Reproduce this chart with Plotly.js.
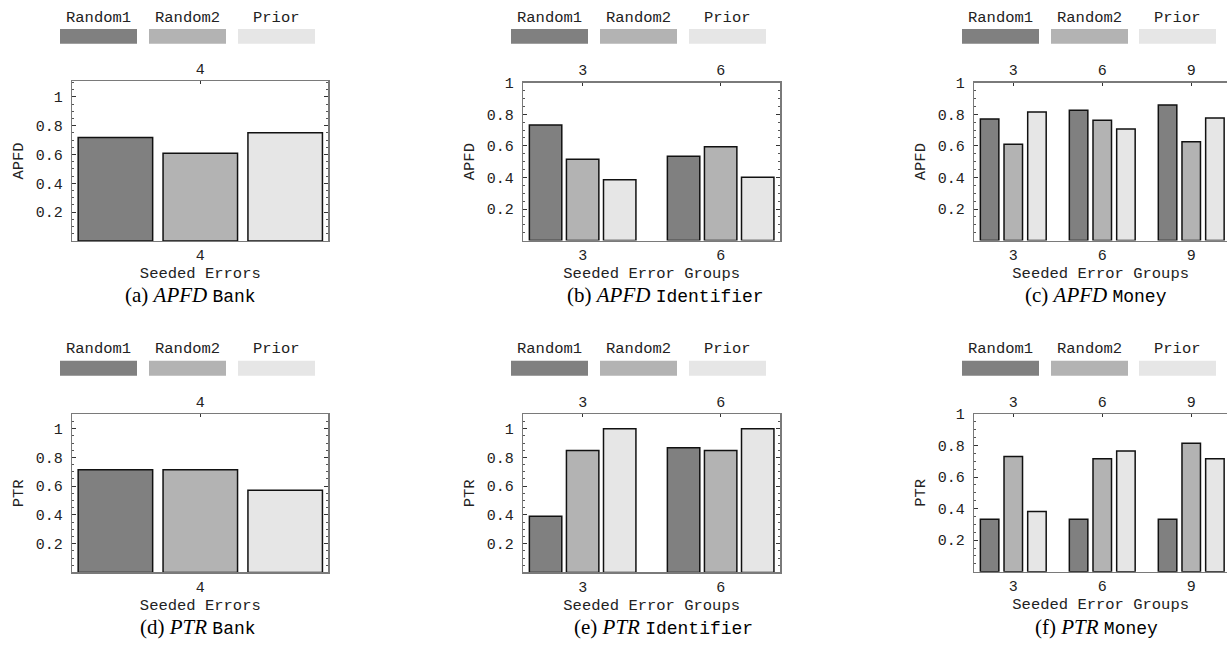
<!DOCTYPE html>
<html>
<head>
<meta charset="utf-8">
<script src="https://cdn.plot.ly/plotly-3.0.1.min.js"></script>
<style>html,body{margin:0;padding:0;background:#fff;}#chart{width:1227px;height:650px;}</style>
</head>
<body>
<div id="chart"></div>
<script>
// ---------------- data ----------------
const seriesNames = ['Random1', 'Random2', 'Prior'];

const bankCategories = ['4'];
const identifierCategories = ['3', '6'];
const moneyCategories = ['3', '6', '9'];

const yTickValues = [0.2, 0.4, 0.6, 0.8, 1];
const yTickLabels = ['0.2', '0.4', '0.6', '0.8', '1'];

// APFD
const apfdBankRandom1 = [0.718];
const apfdBankRandom2 = [0.608];
const apfdBankPrior = [0.751];
const apfdIdentifierRandom1 = [0.732, 0.534];
const apfdIdentifierRandom2 = [0.515, 0.595];
const apfdIdentifierPrior = [0.386, 0.401];
const apfdMoneyRandom1 = [0.770, 0.825, 0.859];
const apfdMoneyRandom2 = [0.610, 0.762, 0.626];
const apfdMoneyPrior = [0.814, 0.707, 0.776];

// PTR
const ptrBankRandom1 = [0.714];
const ptrBankRandom2 = [0.714];
const ptrBankPrior = [0.571];
const ptrIdentifierRandom1 = [0.390, 0.867];
const ptrIdentifierRandom2 = [0.849, 0.849];
const ptrIdentifierPrior = [1.0, 1.0];
const ptrMoneyRandom1 = [0.333, 0.333, 0.333];
const ptrMoneyRandom2 = [0.730, 0.717, 0.815];
const ptrMoneyPrior = [0.382, 0.766, 0.717];

const xTitleBank = 'Seeded Errors';
const xTitleGroups = 'Seeded Error Groups';

// ---------------- styles / layout ----------------
const W = 1227, H = 650;
const fillColors = ['#808080', '#b3b3b3', '#e6e6e6'];
const monoFont = 'Liberation Mono, Courier New, monospace';
const serifFont = 'Liberation Serif, Times New Roman, serif';
const textColor = '#222';
const frameColor = '#7a7a7a';
const px = v => v / W;
const py = v => 1 - v / H;

const panels = [
  {cats: bankCategories, vals: [apfdBankRandom1, apfdBankRandom2, apfdBankPrior], ytitle: 'APFD', xtitle: xTitleBank,
   left: 72.3, right: 328.3, top: 81, bottom: 240.9, ymax: 1.11, xr: [-0.5, 0.5], bw: 0.291, bs: 0.0406, mirror: true,
   caption: ['a', 'APFD', 'Bank'], capX: 190, capY: 295},
  {cats: identifierCategories, vals: [apfdIdentifierRandom1, apfdIdentifierRandom2, apfdIdentifierPrior], ytitle: 'APFD', xtitle: xTitleGroups,
   left: 523.3, right: 780, top: 82.7, bottom: 240.6, ymax: 1.0, xr: [-0.43, 1.43], bw: 0.235, bs: 0.0336, mirror: true,
   caption: ['b', 'APFD', 'Identifier'], capX: 665, capY: 295},
  {cats: moneyCategories, vals: [apfdMoneyRandom1, apfdMoneyRandom2, apfdMoneyPrior], ytitle: 'APFD', xtitle: xTitleGroups,
   left: 974.3, right: 1227, top: 82.7, bottom: 240.6, ymax: 1.0, xr: [-0.438, 2.402], bw: 0.208, bs: 0.058, mirror: false,
   caption: ['c', 'APFD', 'Money'], capX: 1096, capY: 295},
  {cats: bankCategories, vals: [ptrBankRandom1, ptrBankRandom2, ptrBankPrior], ytitle: 'PTR', xtitle: xTitleBank,
   left: 72.3, right: 328.3, top: 414.3, bottom: 572.4, ymax: 1.10, xr: [-0.5, 0.5], bw: 0.291, bs: 0.0406, mirror: true,
   caption: ['d', 'PTR', 'Bank'], capX: 198, capY: 627},
  {cats: identifierCategories, vals: [ptrIdentifierRandom1, ptrIdentifierRandom2, ptrIdentifierPrior], ytitle: 'PTR', xtitle: xTitleGroups,
   left: 523.3, right: 780, top: 414.3, bottom: 572.4, ymax: 1.10, xr: [-0.43, 1.43], bw: 0.235, bs: 0.0336, mirror: true,
   caption: ['e', 'PTR', 'Identifier'], capX: 663, capY: 627},
  {cats: moneyCategories, vals: [ptrMoneyRandom1, ptrMoneyRandom2, ptrMoneyPrior], ytitle: 'PTR', xtitle: xTitleGroups,
   left: 974.3, right: 1227, top: 414, bottom: 571.7, ymax: 1.0, xr: [-0.438, 2.402], bw: 0.208, bs: 0.058, mirror: false,
   caption: ['f', 'PTR', 'Money'], capX: 1096, capY: 627}
];

const legendRows = [{labelY: 18.3, swTop: 29, swBottom: 43.7}, {labelY: 349, swTop: 360.7, swBottom: 375.7}];
const legendCols = [[60, 149, 238], [511, 600, 689], [962, 1051, 1139]];
const swatchW = 77;

const traces = [];
const layout = {
  width: W, height: H,
  margin: {l: 0, r: 0, t: 0, b: 0},
  paper_bgcolor: '#fff', plot_bgcolor: '#fff',
  showlegend: false,
  barmode: 'overlay',
  font: {family: monoFont, size: 15, color: textColor},
  shapes: [], annotations: []
};

panels.forEach((p, i) => {
  const n = i + 1, nt = i + 7;
  const xa = 'x' + n, ya = 'y' + n;
  const idx = p.cats.map((c, k) => k);
  const groupW = 3 * p.bw + 2 * p.bs;
  p.vals.forEach((arr, s) => {
    traces.push({
      type: 'bar', name: seriesNames[s], x: idx, y: arr,
      xaxis: xa, yaxis: ya,
      width: p.bw, offset: -groupW / 2 + s * (p.bw + p.bs),
      marker: {color: fillColors[s], line: {color: '#111', width: 1.5}},
      hoverinfo: 'skip'
    });
  });
  // carrier trace so the top category axis is drawn (invisible)
  traces.push({type: 'scatter', mode: 'markers', x: idx, y: idx.map(() => 0),
    xaxis: 'x' + nt, yaxis: ya, marker: {opacity: 0, size: 1}, hoverinfo: 'skip', showlegend: false});

  const xdom = [px(p.left), Math.min(1, px(p.right))];
  const ydom = [py(p.bottom), py(p.top)];
  layout['xaxis' + n] = {
    domain: xdom, anchor: ya, range: p.xr, fixedrange: true,
    tickmode: 'array', tickvals: idx, ticktext: p.cats,
    showline: true, linecolor: frameColor, linewidth: 1.5, mirror: false,
    ticks: '', showgrid: false, zeroline: false,
    tickfont: {family: monoFont, size: 15, color: textColor},
    title: {text: p.xtitle, font: {family: monoFont, size: 15.5, color: textColor}, standoff: 0}
  };
  layout['xaxis' + nt] = {
    overlaying: xa, anchor: ya, side: 'top', range: p.xr, fixedrange: true,
    tickmode: 'array', tickvals: idx, ticktext: p.cats,
    showline: true, linecolor: frameColor, linewidth: 1.5,
    ticks: 'inside', ticklen: 3, tickcolor: '#333', showgrid: false, zeroline: false,
    ticklabelstandoff: 0,
    tickfont: {family: monoFont, size: 15, color: textColor}
  };
  layout['yaxis' + n] = {
    domain: ydom, anchor: xa, range: [0, p.ymax], fixedrange: true,
    tickmode: 'array', tickvals: yTickValues, ticktext: yTickLabels,
    showline: true, linecolor: frameColor, linewidth: 1.5, mirror: p.mirror ? 'ticks' : false,
    ticks: 'inside', ticklen: 4, tickwidth: 1, tickcolor: '#333',
    minor: {dtick: 0.05, tick0: 0, ticks: 'inside', ticklen: 2, tickwidth: 1, tickcolor: '#555'},
    showgrid: false, zeroline: false,
    ticklabelstandoff: 5,
    tickfont: {family: monoFont, size: 15, color: textColor},
    title: {text: p.ytitle, font: {family: monoFont, size: 15.5, color: textColor}, standoff: 8}
  };
  // legend above panel
  const row = legendRows[i < 3 ? 0 : 1];
  legendCols[i % 3].forEach((x0, s) => {
    layout.shapes.push({type: 'rect', xref: 'paper', yref: 'paper',
      x0: px(x0), x1: px(x0 + swatchW), y0: py(row.swBottom), y1: py(row.swTop),
      fillcolor: fillColors[s], line: {width: 0}});
    layout.annotations.push({xref: 'paper', yref: 'paper', x: px(x0 + swatchW / 2), y: py(row.labelY),
      xanchor: 'center', yanchor: 'middle', showarrow: false, text: seriesNames[s],
      font: {family: monoFont, size: 15.5, color: textColor}});
  });
  // caption
  layout.annotations.push({xref: 'paper', yref: 'paper', x: px(p.capX), y: py(p.capY),
    xanchor: 'center', yanchor: 'middle', showarrow: false,
    text: '(' + p.caption[0] + ') <i>' + p.caption[1] + '</i> <span style="font-family:Liberation Mono;font-size:18px">' + p.caption[2] + '</span>',
    font: {family: serifFont, size: 21, color: '#000'}});
});

Plotly.newPlot('chart', traces, layout, {staticPlot: true, displayModeBar: false});
</script>
</body>
</html>
